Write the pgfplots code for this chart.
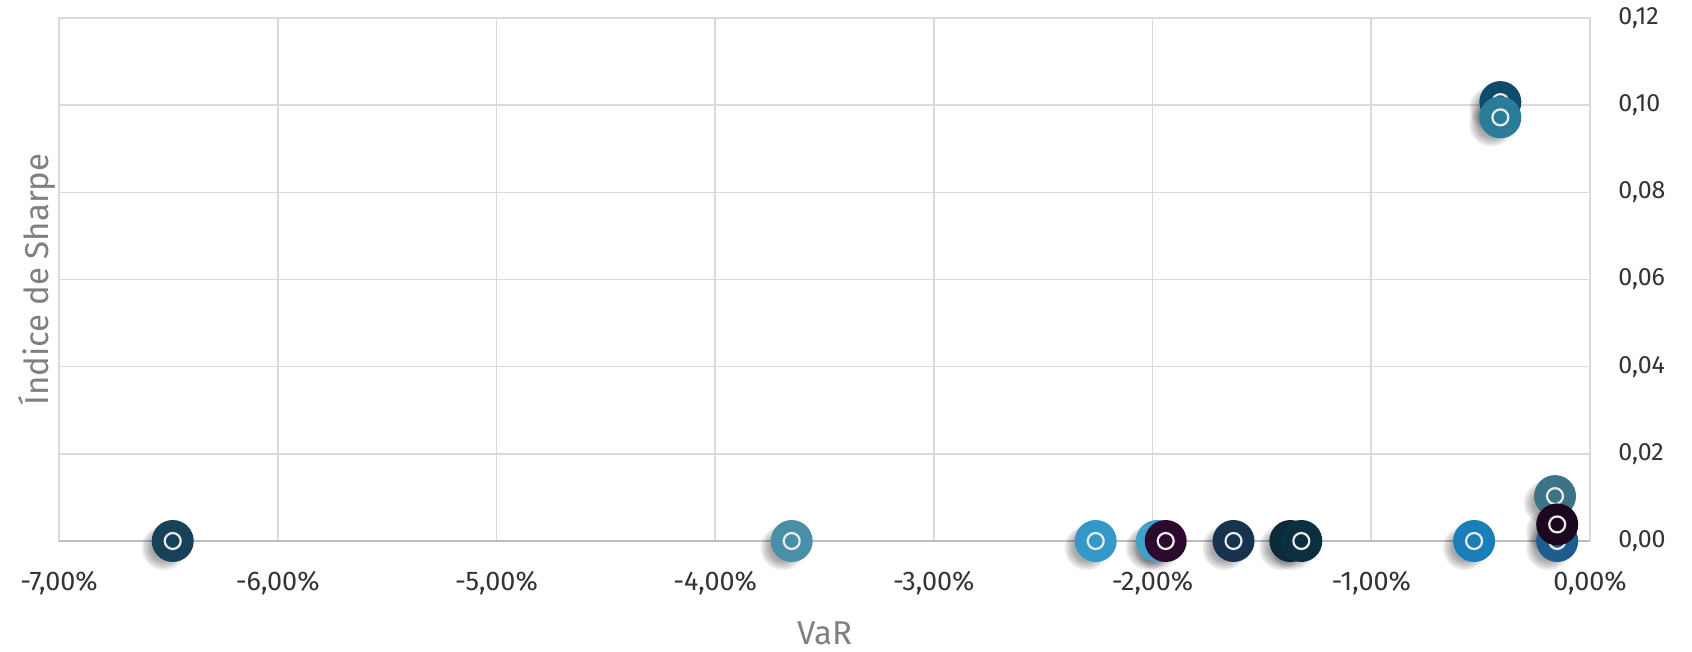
\documentclass[border=0pt]{standalone}
\usepackage{pgfplots}
\pgfplotsset{compat=1.18}
\usepackage{pgfplotstable}
\usepackage{fontspec}
\setmainfont{Fira Sans}
\definecolor{gridc}{HTML}{DADADA}
\definecolor{basec}{HTML}{BDBDBD}
\definecolor{tickc}{HTML}{333333}
\definecolor{labc}{HTML}{808080}
\definecolor{cA}{HTML}{17435A}
\definecolor{cB}{HTML}{4A8FA8}
\definecolor{cC}{HTML}{3498C8}
\definecolor{cD}{HTML}{3FA0CC}
\definecolor{cE}{HTML}{2C0A2E}
\definecolor{cF}{HTML}{173350}
\definecolor{cG}{HTML}{0C2A3A}
\definecolor{cH}{HTML}{0A3040}
\definecolor{cI}{HTML}{1A7FB8}
\definecolor{cJ}{HTML}{3B7585}
\definecolor{cK}{HTML}{1F5D8F}
\definecolor{cL}{HTML}{1B0820}
\definecolor{cM}{HTML}{0F4C6C}
\definecolor{cN}{HTML}{2B7B9B}
\pgfdeclareplotmark{ringdot}{%
  \pgfpathcircle{\pgfpointorigin}{\pgfplotmarksize}%
  \pgfusepath{fill}%
  \pgfsetstrokecolor{white!92!black}%
  \pgfsetlinewidth{1.1pt}%
  \pgfpathcircle{\pgfpointorigin}{0.38\pgfplotmarksize}%
  \pgfusepath{stroke}%
}
\pgfdeclareplotmark{shadowdisk}{%
  \pgfsetfillopacity{0.08}%
  \pgfpathcircle{\pgfpoint{-4.5pt}{-3.5pt}}{1.05\pgfplotmarksize}\pgfusepath{fill}%
  \pgfpathcircle{\pgfpoint{-4.5pt}{-3.5pt}}{0.95\pgfplotmarksize}\pgfusepath{fill}%
  \pgfpathcircle{\pgfpoint{-4.5pt}{-3.5pt}}{0.85\pgfplotmarksize}\pgfusepath{fill}%
  \pgfpathcircle{\pgfpoint{-4.5pt}{-3.5pt}}{0.75\pgfplotmarksize}\pgfusepath{fill}%
  \pgfpathcircle{\pgfpoint{-4.5pt}{-3.5pt}}{0.65\pgfplotmarksize}\pgfusepath{fill}%
}
\pgfplotstableread{
x y c
-6.48 0.0000 a
-3.65 0.0000 b
-2.26 0.0000 c
-1.98 0.0000 d
-1.94 0.0000 e
-1.63 0.0000 f
-1.37 0.0000 g
-1.32 0.0000 h
-0.53 0.0000 i
-0.16 0.0103 j
-0.15 0.0000 k
-0.15 0.0038 l
-0.41 0.1007 m
-0.41 0.0972 n
}\data
\begin{document}
\begin{tikzpicture}
\path[use as bounding box] (-29.5pt,-55.5pt) rectangle (816.5pt,270.5pt);
\begin{axis}[
  at={(0,0)}, anchor=south west,
  scale only axis, width=765.5pt, height=261.5pt,
  xmin=-7, xmax=0, ymin=0, ymax=0.12,
  clip=false,
  axis line style={draw=gridc, line width=0.8pt},
  grid=major, grid style={draw=gridc, line width=0.8pt},
  major tick length=0pt,
  xtick={-7,-6,-5,-4,-3,-2,-1,0},
  ytick={0,0.02,0.04,0.06,0.08,0.1,0.12},
  extra y ticks={0}, extra y tick labels={},
  extra y tick style={grid style={draw=basec, line width=1.1pt}},
  scaled y ticks=false,
  /pgf/number format/assume math mode=true,
  yticklabel pos=right,
  yticklabel style={/pgf/number format/.cd, fixed, fixed zerofill, precision=2, use comma, /tikz/.cd,
     font=\fontsize{12.5}{14}\selectfont, text=tickc, anchor=west, inner sep=0pt, xshift=14pt},
  xticklabel={\pgfmathprintnumber[fixed,fixed zerofill,precision=2,use comma]{\tick}\%},
  xticklabel style={font=\fontsize{13.5}{15}\selectfont, text=tickc, anchor=center, inner sep=0pt, yshift=-21pt},
  xlabel={VaR},
  ylabel={Índice de Sharpe},
  xlabel style={at={(axis description cs:0.5,0)}, anchor=center, inner sep=0pt, yshift=-46pt, font=\fontsize{16.5}{18}\selectfont, text=labc},
  ylabel style={at={(axis description cs:0,0.5)}, anchor=center, inner sep=0pt, rotate=0, yshift=11pt, font=\fontsize{16.5}{18}\selectfont, text=labc},
]
\addplot[only marks, mark=shadowdisk, mark size=10.5pt, fill=black] table[x=x, y=y] {\data};
\addplot[scatter, only marks, mark=ringdot, mark size=10.5pt,
  scatter src=explicit symbolic,
  scatter/classes={
    a={fill=cA}, b={fill=cB}, c={fill=cC}, d={fill=cD}, e={fill=cE},
    f={fill=cF}, g={fill=cG}, h={fill=cH}, i={fill=cI}, j={fill=cJ},
    k={fill=cK}, l={fill=cL}, m={fill=cM}, n={fill=cN}}
  ] table[x=x, y=y, meta=c] {\data};
\end{axis}
\end{tikzpicture}
\end{document}
